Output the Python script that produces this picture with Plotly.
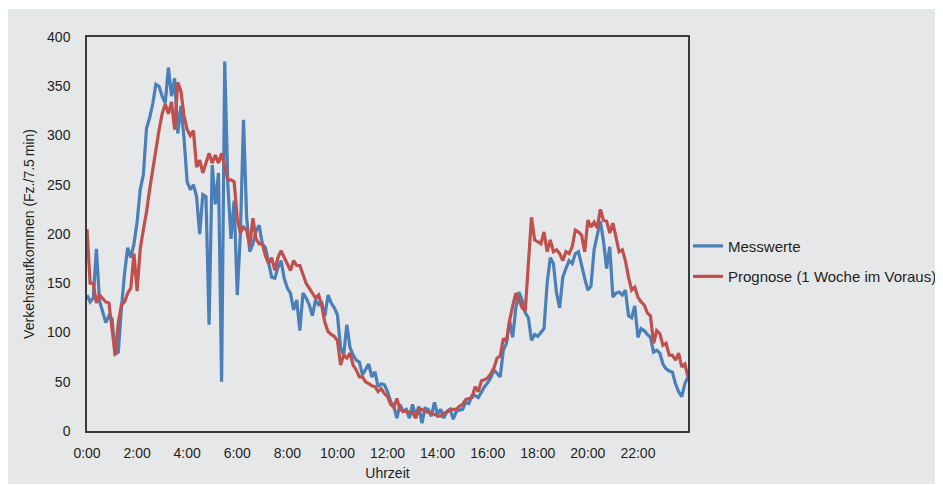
import plotly.graph_objects as go

interval_minutes = 7.5

messwerte = [
    138, 131, 135, 185, 132, 122, 110, 117, 114, 78,
    80, 125, 160, 186, 176, 190, 212, 245, 260, 307,
    318, 332, 352, 350, 340, 333, 369, 340, 358, 302,
    330, 297, 253, 245, 250, 238, 200, 240, 238, 108,
    270, 230, 262, 50, 375, 250, 195, 234, 138, 200,
    316, 217, 182, 190, 203, 209, 190, 186, 170, 156,
    155, 166, 173, 155, 145, 140, 123, 133, 102, 140,
    135, 128, 117, 133, 128, 130, 117, 138, 130, 125,
    118, 85, 77, 108, 85, 77, 72, 70, 57, 62,
    68, 55, 60, 45, 48, 47, 40, 30, 25, 13,
    27, 20, 22, 13, 27, 15, 25, 8, 23, 22,
    15, 29, 17, 22, 13, 20, 22, 12, 20, 21,
    22, 29, 28, 36, 36, 34, 40, 45, 49, 54,
    62, 58, 55, 82, 89, 112, 95, 125, 141, 133,
    120, 115, 92, 98, 96, 100, 104, 150, 176, 170,
    140, 125, 156, 165, 173, 170, 180, 182, 167, 155,
    143, 147, 184, 197, 213, 193, 165, 187, 136, 140,
    141, 138, 143, 117, 115, 127, 95, 104, 102, 98,
    95, 80, 82, 79, 68, 63, 61, 60, 48, 40,
    35, 48, 55,
]

prognose = [
    205, 150, 150, 130, 138, 134, 131, 130, 100, 77,
    110, 128, 131, 140, 145, 180, 142, 185, 204, 222,
    245, 265, 288, 305, 322, 332, 322, 334, 306, 354,
    345, 320, 306, 300, 305, 268, 275, 262, 272, 282,
    272, 280, 272, 282, 268, 255, 255, 253, 216, 201,
    207, 204, 188, 216, 195, 190, 190, 178, 170, 176,
    163, 176, 183, 176, 170, 163, 173, 168, 168, 160,
    150, 145, 140, 135, 138, 127, 110, 101, 98, 96,
    92, 67, 77, 74, 79, 67, 62, 55, 55, 50,
    48, 46, 45, 40, 43, 38, 35, 27, 24, 33,
    22, 20, 20, 19, 19, 13, 22, 22, 20, 19,
    18, 17, 15, 15, 18, 19, 22, 22, 22, 25,
    27, 32, 33, 34, 45, 40, 51, 52, 54, 58,
    64, 74, 76, 94, 91, 112, 127, 140, 133, 125,
    122, 165, 217, 194, 192, 190, 202, 182, 194, 182,
    184, 180, 173, 182, 180, 187, 204, 202, 199, 182,
    214, 207, 212, 206, 225, 214, 213, 201, 211, 197,
    182, 184, 173, 156, 143, 146, 136, 131, 128, 120,
    117, 89, 102, 99, 87, 89, 77, 77, 72, 79,
    65, 68, 55,
]

tick_hours = [0, 2, 4, 6, 8, 10, 12, 14, 16, 18, 20, 22]
tick_labels = ["0:00", "2:00", "4:00", "6:00", "8:00", "10:00", "12:00",
               "14:00", "16:00", "18:00", "20:00", "22:00"]
y_ticks = [0, 50, 100, 150, 200, 250, 300, 350, 400]

hours_m = [i * interval_minutes / 60 for i in range(len(messwerte))]
hours_p = [i * interval_minutes / 60 for i in range(len(prognose))]

FONT = "Liberation Sans, Arial, sans-serif"
TXT = "#231f20"

fig = go.Figure()
fig.add_trace(go.Scatter(x=hours_m, y=messwerte, mode="lines", name="Messwerte",
                         legendgroup="a",
                         line=dict(color="#4a7fb8", width=3.2)))
fig.add_trace(go.Scatter(x=hours_p, y=prognose, mode="lines", name="Prognose (1 Woche im Voraus)",
                         legendgroup="b",
                         line=dict(color="#bf504d", width=3.2)))

fig.add_shape(type="rect", xref="paper", yref="paper",
              x0=-0.14, x1=1.45, y0=-0.1345, y1=1.0711,
              fillcolor="#e6e7e8", line=dict(width=0), layer="below")

fig.update_layout(
    width=935, height=478,
    margin=dict(l=79, r=255, t=29, b=55, autoexpand=False),
    paper_bgcolor="white",
    plot_bgcolor="rgba(0,0,0,0)",
    font=dict(family=FONT, size=14, color=TXT),
    showlegend=True,
    legend=dict(x=1.0, y=0.431, xanchor="left", yanchor="middle",
                font=dict(family=FONT, size=15, color=TXT),
                bgcolor="rgba(0,0,0,0)", tracegroupgap=8,
                itemwidth=30),
    xaxis=dict(range=[0, 24], tickvals=tick_hours, ticktext=tick_labels,
               showgrid=False, zeroline=False, showline=True, mirror=True,
               linecolor="#3a3a3a", linewidth=1.5, ticks="",
               ticklabelstandoff=8, automargin=False,
               tickfont=dict(family=FONT, size=14, color=TXT),
               title=dict(text="Uhrzeit", standoff=9,
                          font=dict(family=FONT, size=14, color=TXT))),
    yaxis=dict(range=[0, 400], tickvals=y_ticks,
               showgrid=False, zeroline=False, showline=True, mirror=True,
               linecolor="#3a3a3a", linewidth=1.5, ticks="",
               ticklabelstandoff=12, automargin=False,
               tickfont=dict(family=FONT, size=14, color=TXT),
               title=dict(text="Verkehrsaufkommen (Fz./7.5\u2009min)", standoff=9,
                          font=dict(family=FONT, size=14, color=TXT))),
)

fig.write_html("out.html")
